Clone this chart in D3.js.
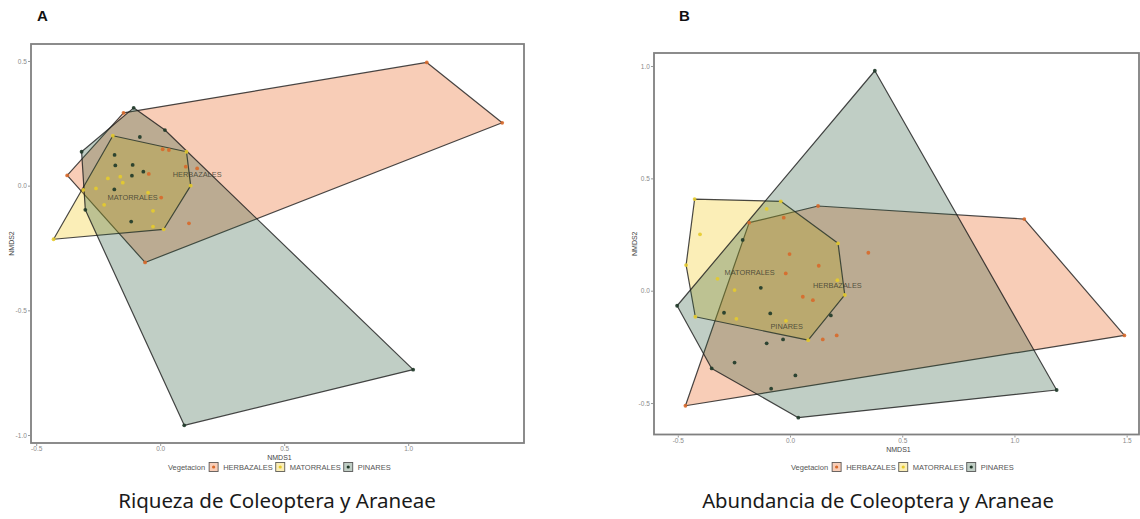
<!DOCTYPE html>
<html><head><meta charset="utf-8">
<script src="https://cdn.jsdelivr.net/npm/d3@7"></script>
<style>body{margin:0;background:#fff}svg{display:block}</style>
</head><body>
<svg id="c" width="1140" height="519"></svg>
<script>
const groups = ["HERBAZALES", "MATORRALES", "PINARES"];

// Panel A: Riqueza de Coleoptera y Araneae (NMDS1, NMDS2)
const riqHerbazales = [[-0.375,0.041],[-0.148,0.292],[1.075,0.494],[1.379,0.252],[-0.061,-0.308],[0.116,-0.151],[0.010,0.146],[0.035,0.143],[0.103,0.076],[0.149,0.069],[-0.046,0.047],[0.004,-0.048]];
const riqMatorrales = [[-0.430,-0.215],[-0.191,0.200],[0.106,0.136],[0.123,0.000],[0.014,-0.175],[-0.211,0.029],[-0.161,0.036],[-0.151,0.012],[-0.259,-0.011],[-0.226,-0.077],[-0.049,-0.028],[-0.029,-0.101],[-0.029,-0.164],[-0.310,-0.017]];
const riqPinares = [[-0.317,0.136],[-0.107,0.312],[0.019,0.223],[-0.082,0.195],[-0.184,0.123],[-0.181,0.081],[-0.111,0.083],[-0.068,0.056],[-0.114,0.040],[-0.185,-0.015],[-0.117,-0.144],[-0.302,-0.097],[0.097,-0.961],[1.020,-0.738]];
const riqLabels = [["HERBAZALES",0.149,0.045],["MATORRALES",-0.111,-0.047]];
const riqXTicks = [-0.5, 0.0, 0.5, 1.0];
const riqYTicks = [-1.0, -0.5, 0.0, 0.5];

// Panel B: Abundancia de Coleoptera y Araneae
const abuHerbazales = [[-0.466,-0.512],[-0.182,0.303],[0.125,0.377],[1.044,0.319],[1.490,-0.199],[-0.028,0.325],[-0.002,0.163],[-0.019,0.077],[0.128,0.111],[0.057,-0.027],[0.102,-0.042],[0.349,0.169],[0.146,-0.217],[0.208,-0.199]];
const abuMatorrales = [[-0.425,0.408],[-0.041,0.398],[0.214,0.211],[0.244,-0.019],[0.081,-0.220],[-0.422,-0.116],[-0.463,0.114],[-0.401,0.251],[-0.104,0.364],[-0.323,0.053],[-0.247,0.003],[-0.239,-0.125],[-0.018,-0.134],[0.211,0.047]];
const abuPinares = [[0.378,0.979],[1.188,-0.442],[0.037,-0.565],[-0.349,-0.346],[-0.503,-0.067],[-0.211,0.226],[-0.130,0.013],[-0.088,-0.101],[-0.294,-0.098],[-0.031,-0.217],[-0.104,-0.234],[-0.247,-0.320],[0.024,-0.377],[-0.084,-0.436],[0.182,-0.110]];
const abuLabels = [["MATORRALES",-0.180,0.083],["HERBAZALES",0.211,0.022],["PINARES",-0.015,-0.160]];
const abuXTicks = [-0.5, 0.0, 0.5, 1.0, 1.5];
const abuYTicks = [-0.5, 0.0, 0.5, 1.0];

const titles = ["Riqueza de Coleoptera y Araneae", "Abundancia de Coleoptera y Araneae"];
const panelLetters = ["A", "B"];
const legendTitle = "Vegetacion";

const fillColors = {HERBAZALES: "#E85A12", MATORRALES: "#F2C812", PINARES: "#2F5E40"};
const pointColors = {HERBAZALES: "#D8692A", MATORRALES: "#E6CB2C", PINARES: "#1E3828"};

const svg = d3.select("#c");
const fmt = v => d3.format(".1f")(v).replace("\u2212", "-");
const SANS = "'Liberation Sans', Arial, sans-serif";

function drawPanel(cfg) {
  const x = d3.scaleLinear().domain(cfg.xDomain).range([cfg.left, cfg.right]);
  const y = d3.scaleLinear().domain(cfg.yDomain).range([cfg.bottom, cfg.top]);
  const g = svg.append("g");

  const data = {HERBAZALES: cfg.herb, MATORRALES: cfg.mat, PINARES: cfg.pin};

  // hulls
  groups.forEach(grp => {
    const pts = data[grp].map(p => [x(p[0]), y(p[1])]);
    const hull = d3.polygonHull(pts);
    g.append("path")
      .attr("d", "M" + hull.join("L") + "Z")
      .attr("fill", fillColors[grp])
      .attr("fill-opacity", 0.3)
      .attr("stroke", "#1a1a1a")
      .attr("stroke-opacity", 0.8)
      .attr("stroke-width", 1.2)
      .attr("stroke-linejoin", "round");
  });
  // points
  groups.forEach(grp => {
    g.selectAll(null).data(data[grp]).enter().append("circle")
      .attr("cx", d => x(d[0])).attr("cy", d => y(d[1]))
      .attr("r", 1.9)
      .attr("fill", pointColors[grp])
      .attr("fill-opacity", 0.9);
  });
  // group labels
  g.selectAll(null).data(cfg.labels).enter().append("text")
    .attr("x", d => x(d[1])).attr("y", d => y(d[2]))
    .attr("text-anchor", "middle").attr("dominant-baseline", "central")
    .attr("font-family", SANS).attr("font-size", 7.4)
    .attr("fill", "#3d3d30").attr("fill-opacity", 0.85)
    .text(d => d[0]);

  // border
  g.append("rect")
    .attr("x", cfg.left).attr("y", cfg.top)
    .attr("width", cfg.right - cfg.left).attr("height", cfg.bottom - cfg.top)
    .attr("fill", "none").attr("stroke", "#808080").attr("stroke-width", 1.8);

  // axes
  const ax = g.append("g").attr("transform", `translate(0,${cfg.bottom + 1})`)
    .call(d3.axisBottom(x).tickValues(cfg.xTicks).tickFormat(fmt).tickSize(2).tickPadding(0.8));
  const ay = g.append("g").attr("transform", `translate(${cfg.left - 1},0)`)
    .call(d3.axisLeft(y).tickValues(cfg.yTicks).tickFormat(fmt).tickSize(2).tickPadding(1.2));
  [ax, ay].forEach(a => {
    a.select(".domain").remove();
    a.selectAll("line").attr("stroke", "#999");
    a.selectAll("text").attr("fill", "#8a8a8a").attr("font-size", 6.5).attr("font-family", SANS);
  });

  // axis titles
  g.append("text").attr("x", (cfg.left + cfg.right) / 2 + 2).attr("y", cfg.bottom + 17)
    .attr("text-anchor", "middle").attr("font-family", SANS).attr("font-size", 7)
    .attr("fill", "#444").text("NMDS1");
  g.append("text").attr("transform", `translate(${cfg.yTitleX},${(cfg.top + cfg.bottom) / 2}) rotate(-90)`)
    .attr("text-anchor", "middle").attr("font-family", SANS).attr("font-size", 7)
    .attr("fill", "#444").text("NMDS2");

  // legend
  const lg = g.append("g").attr("transform", `translate(${cfg.legendX},${cfg.legendY})`);
  let cx = 0;
  const lt = lg.append("text").attr("x", cx).attr("y", 0).attr("dominant-baseline", "central")
    .attr("font-family", SANS).attr("font-size", 7.5).attr("fill", "#555").text(legendTitle);
  cx += lt.node().getComputedTextLength() + 4;
  groups.forEach(grp => {
    lg.append("rect").attr("x", cx).attr("y", -4.5).attr("width", 9).attr("height", 9)
      .attr("fill", "#fff");
    lg.append("rect").attr("x", cx).attr("y", -4.5).attr("width", 9).attr("height", 9)
      .attr("fill", fillColors[grp]).attr("fill-opacity", 0.3)
      .attr("stroke", "#333").attr("stroke-opacity", 0.8).attr("stroke-width", 0.9);
    lg.append("circle").attr("cx", cx + 4.5).attr("cy", 0).attr("r", 1.6).attr("fill", pointColors[grp]);
    cx += 9 + 5;
    const t = lg.append("text").attr("x", cx).attr("y", 0).attr("dominant-baseline", "central")
      .attr("font-family", SANS).attr("font-size", 7.5).attr("fill", "#555").text(grp);
    cx += t.node().getComputedTextLength() + 3;
  });

  // title
  const tt = svg.append("text").attr("x", cfg.titleX).attr("y", 508)
    .attr("text-anchor", "middle").attr("font-family", "'Noto Sans', 'Open Sans', sans-serif")
    .attr("font-size", 20).attr("fill", "#1a1a1a").text(cfg.title);
  const w = tt.node().getComputedTextLength();
  tt.attr("font-size", 20 * cfg.titleW / w);

  // panel letter
  svg.append("text").attr("x", cfg.letterX).attr("y", 21)
    .attr("font-family", SANS).attr("font-weight", "bold").attr("font-size", 15)
    .attr("fill", "#111").text(cfg.letter);
}

drawPanel({
  left: 31, right: 524, top: 44, bottom: 443,
  xDomain: [-0.521, 1.467], yDomain: [-1.032, 0.568],
  herb: riqHerbazales, mat: riqMatorrales, pin: riqPinares,
  labels: riqLabels, xTicks: riqXTicks, yTicks: riqYTicks,
  yTitleX: 14, legendX: 168, legendY: 467,
  title: titles[0], titleX: 277, titleW: 318,
  letter: panelLetters[0], letterX: 37
});
drawPanel({
  left: 654, right: 1139, top: 53, bottom: 434.5,
  xDomain: [-0.606, 1.555], yDomain: [-0.640, 1.058],
  herb: abuHerbazales, mat: abuMatorrales, pin: abuPinares,
  labels: abuLabels, xTicks: abuXTicks, yTicks: abuYTicks,
  yTitleX: 637, legendX: 791, legendY: 467,
  title: titles[1], titleX: 878, titleW: 352,
  letter: panelLetters[1], letterX: 679
});
</script>
</body></html>
